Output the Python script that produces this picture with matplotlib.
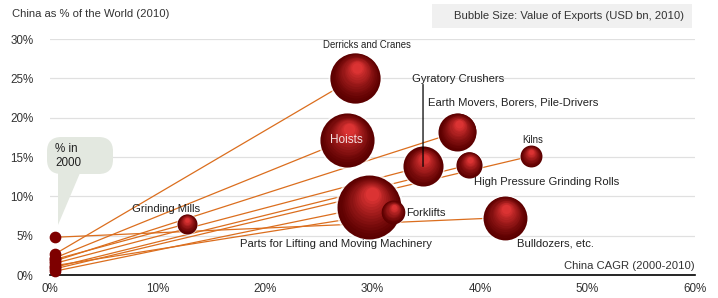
import matplotlib
matplotlib.use("Agg")
import matplotlib.pyplot as plt
import matplotlib.transforms as mtransforms
from matplotlib.patches import FancyBboxPatch, Polygon, Rectangle
import numpy as np

plt.rcParams['font.family'] = ['Liberation Sans', 'DejaVu Sans']

# ---------------- data ----------------
products = ["Derricks and Cranes", "Hoists", "Earth Movers, Borers, Pile-Drivers",
            "Gyratory Crushers", "High Pressure Grinding Rolls", "Kilns",
            "Parts for Lifting and Moving Machinery", "Forklifts", "Bulldozers, etc.",
            "Grinding Mills"]
cagr = [28.4, 27.6, 37.9, 34.7, 39.0, 44.7, 29.7, 31.9, 42.3, 12.7]          # % CAGR 2000-2010
share_2010 = [25.1, 17.2, 18.2, 13.8, 14.0, 15.1, 8.7, 8.0, 7.3, 6.5]        # China % of world 2010
share_2000 = [2.7, 2.2, 1.8, 1.5, 1.0, 0.8, 0.5, 1.2, 4.8, 2.0]             # China % of world 2000
exports = [6.3, 7.3, 3.6, 4.0, 1.7, 1.2, 10.2, 1.4, 4.8, 1.0]               # USD bn, 2010
x_2000 = 0.5

xticks = [0, 10, 20, 30, 40, 50, 60]
yticks = [0, 5, 10, 15, 20, 25, 30]

# label placement (offset pixels from bubble centre)
label_offsets = {
    "Derricks and Cranes": (12, 33, 'center', 6.9),
    "Hoists": (0, 0, 'center', 8.5),
    "Earth Movers, Borers, Pile-Drivers": (-29, 29, 'left', 8.1),
    "Gyratory Crushers": (-11, 87, 'left', 8.1),
    "High Pressure Grinding Rolls": (5, -17, 'left', 8.1),
    "Kilns": (2, 16, 'center', 6.9),
    "Parts for Lifting and Moving Machinery": (-129, -37, 'left', 8.1),
    "Forklifts": (13, -1, 'left', 8.1),
    "Bulldozers, etc.": (12, -26, 'left', 8.1),
    "Grinding Mills": (-20, 15, 'center', 8.1),
}

W, H, DPI = 718, 298, 100
fig = plt.figure(figsize=(W / DPI, H / DPI), dpi=DPI)
ax = fig.add_axes([50 / W, (H - 275) / H, (695 - 50) / W, (275 - 39) / H])
ax.set_xlim(0, 60)
ax.set_ylim(0, 30)

# grid / axes
for yv in yticks[1:]:
    ax.axhline(yv, color='#E0E0E0', lw=0.9, zorder=0)
for s in ['top', 'right', 'left']:
    ax.spines[s].set_visible(False)
ax.spines['bottom'].set_color('black')
ax.spines['bottom'].set_linewidth(1.2)
ax.set_xticks(xticks)
ax.set_xticklabels([f"{v}%" for v in xticks])
ax.set_yticks(yticks)
ax.set_yticklabels([f"{v}%" for v in yticks])
ax.tick_params(axis='both', length=0, labelsize=8.4, colors='#333333')
ax.tick_params(axis='x', pad=6)
ax.tick_params(axis='y', pad=12)

# connecting lines
for x1, y0, y1 in zip(cagr, share_2000, share_2010):
    ax.plot([x_2000, x1], [y0, y1], color='#DB6E1E', lw=0.9, zorder=2, solid_capstyle='butt')

# 2000 dots
ax.scatter([x_2000] * len(share_2000), share_2000, s=55, color='#7E0000', zorder=3, clip_on=False)

# spheres
dark = np.array([0.36, 0.0, 0.0])
bright = np.array([0.86, 0.20, 0.20])
k = 208.0
for x, y, v in zip(cagr, share_2010, exports):
    s = v * k
    d_pt = np.sqrt(s)
    r_pt = d_pt / 2
    ax.scatter([x], [y], s=s * 1.15, color='white', alpha=0.7, zorder=4, lw=0)
    n = 14
    for i in range(n):
        f = 1 - i / n * 0.85
        t = (i / (n - 1)) ** 1.3
        col = dark * (1 - t) + bright * t
        off = (1 - f) * 0.5 * r_pt
        tr = mtransforms.offset_copy(ax.transData, fig=fig, x=off * 0.2, y=off, units='points')
        ax.scatter([x], [y], s=s * f * f, color=col, zorder=5, lw=0, transform=tr)

# labels
for name, x, y in zip(products, cagr, share_2010):
    dx, dy, ha, fs = label_offsets[name]
    color = '#F5E0E0' if name == "Hoists" else '#222222'
    ax.annotate(name, xy=(x, y), xytext=(dx, dy), textcoords='offset pixels',
                ha=ha, va='center', fontsize=fs, color=color, zorder=7)

# Gyratory crushers leader line
gi = products.index("Gyratory Crushers")
ax.annotate('', xy=(cagr[gi], share_2010[gi]), xytext=(0, 82), textcoords='offset pixels',
            arrowprops=dict(arrowstyle='-', color='black', lw=0.9, shrinkA=0, shrinkB=0), zorder=8)

# axis titles
fig.text(12 / W, 1 - 14 / H, "China as % of the World (2010)", fontsize=8.1, color='#333333',
         ha='left', va='center')
fig.text(695 / W, 1 - 266 / H, "China CAGR (2000-2010)", fontsize=8.1, color='#333333',
         ha='right', va='center')

# legend box
fig.patches.append(Rectangle((432 / W, 1 - 28 / H), (692 - 432) / W, 24 / H,
                             transform=fig.transFigure, facecolor='#F0F0F0', edgecolor='none'))
fig.text(684 / W, 1 - 16 / H, "Bubble Size: Value of Exports (USD bn, 2010)", fontsize=8.1,
         color='#333333', ha='right', va='center')

# callout "% in 2000"
cc = '#E3E8E0'
fig.patches.append(FancyBboxPatch((47 / W, 1 - 174 / H), (113 - 47) / W, (174 - 137) / H,
                                  boxstyle="round,pad=0,rounding_size=0.02",
                                  transform=fig.transFigure, facecolor=cc, edgecolor='none',
                                  mutation_aspect=W / H))
fig.patches.append(Polygon([(58 / W, 1 - 173 / H), (80 / W, 1 - 173 / H), (58 / W, 1 - 225 / H)],
                           closed=True, transform=fig.transFigure, facecolor=cc, edgecolor='none'))
fig.text(55 / W, 1 - 156 / H, "% in\n2000", fontsize=8.4, color='#222222', ha='left', va='center',
         linespacing=1.25)

fig.savefig("out.png", dpi=DPI)
